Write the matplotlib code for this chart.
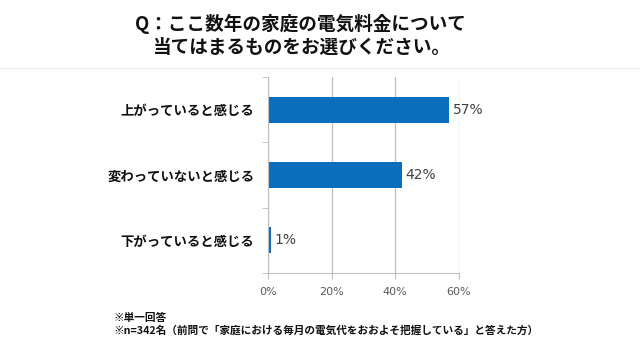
import matplotlib

matplotlib.use("Agg")
import matplotlib.pyplot as plt
from matplotlib.ticker import FixedLocator, PercentFormatter

plt.rcParams["font.family"] = ["Noto Sans CJK JP", "DejaVu Sans"]

TITLE = "Q：ここ数年の家庭の電気料金について\n当てはまるものをお選びください。"
CATEGORIES = ["上がっていると感じる", "変わっていないと感じる", "下がっていると感じる"]
VALUES = [57, 42, 1]
X_TICKS = [0, 20, 40, 60]
NOTES = ["※単一回答",
         "※n=342名（前問で「家庭における毎月の電気代をおおよそ把握している」と答えた方）"]

BAR_COLOR = "#0A6EBD"
GRID_COLOR = "#BFBFBF"
TEXT_GRAY = "#595959"

fig = plt.figure(figsize=(6.4, 3.6), dpi=100)
ax = fig.add_axes([0.419, 0.242, 0.298, 0.544])

ypos = list(range(len(CATEGORIES)))
ax.barh(ypos, VALUES, height=0.4, color=BAR_COLOR)
for y, v in zip(ypos, VALUES):
    ax.text(v + 1.0, y, f"{v}%", va="center", ha="left", fontsize=10,
            color="#404040", family=["DejaVu Sans"])

ax.set_xlim(0, 60)
ax.set_ylim(len(CATEGORIES) - 0.5, -0.5)
ax.set_xticks(X_TICKS)
ax.xaxis.set_major_formatter(PercentFormatter(decimals=0))
ax.set_yticks(ypos)
ax.set_yticklabels(CATEGORIES, fontsize=9.6, fontweight="bold", color="#111111")
ax.yaxis.set_minor_locator(FixedLocator([-0.5, 0.5, 1.5, 2.5]))
ax.tick_params(axis="y", which="major", length=0, pad=10)
ax.tick_params(axis="y", which="minor", length=4, color=GRID_COLOR)
ax.tick_params(axis="x", length=4, color=GRID_COLOR, labelsize=8, labelcolor=TEXT_GRAY, pad=6)
for lab in ax.get_xticklabels():
    lab.set_family(["DejaVu Sans"])

ax.grid(axis="x", color=GRID_COLOR, linewidth=0.9)
ax.set_axisbelow(True)
for side in ("top", "right"):
    ax.spines[side].set_visible(False)
for side in ("left", "bottom"):
    ax.spines[side].set_color(GRID_COLOR)

fig.text(0.47, 0.962, TITLE, ha="center", va="top", fontsize=13.4,
         fontweight="bold", color="#111111", linespacing=1.3)
fig.add_artist(plt.Line2D([0, 1], [0.812, 0.812], transform=fig.transFigure,
                          color="#EBEBEB", linewidth=0.8))
fig.text(0.177, 0.13, "\n".join(NOTES), ha="left", va="top", fontsize=7.7,
         fontweight="bold", color="#111111", linespacing=1.3)

fig.savefig("out.png", dpi=100)
